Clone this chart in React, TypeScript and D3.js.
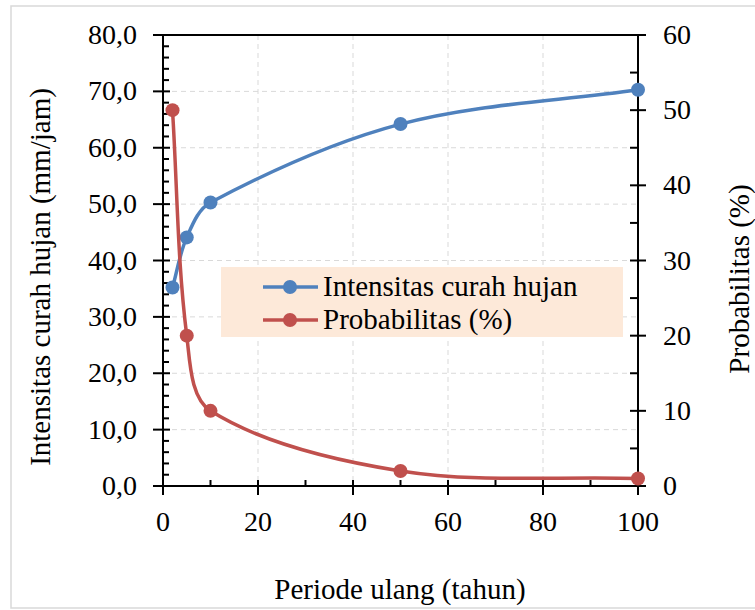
import React from "react";
import * as d3 from "d3";

const periods = [2, 5, 10, 50, 100];
const intensitas = [35.2, 44.1, 50.3, 64.2, 70.3];
const probabilitas = [50, 20, 10, 2, 1];
const seriesNames = ["Intensitas curah hujan", "Probabilitas (%)"];
const seriesColors = ["#4F81BD", "#C0504D"];
const xTicks = [0, 20, 40, 60, 80, 100];
const xMinorTicks = [10, 30, 50, 70, 90];
const yLeftTicks = [0, 10, 20, 30, 40, 50, 60, 70, 80];
const yRightTicks = [0, 10, 20, 30, 40, 50, 60];

const W = 755;
const H = 610;
const L = 163, R = 638, T = 35, B = 486;
const FONT = "'Liberation Serif', 'Times New Roman', serif";
const FS = 28;
const FS2 = 29;

// Excel-like smoothed line: Bezier segments whose control arms are scaled by segment lengths
function smoothPath(pts: [number, number][]): string {
  const p = d3.path();
  if (!pts.length) return "";
  p.moveTo(pts[0][0], pts[0][1]);
  const dist = (a: [number, number], b: [number, number]) => Math.hypot(b[0] - a[0], b[1] - a[1]);
  for (let i = 0; i < pts.length - 1; i++) {
    const p0 = pts[Math.max(0, i - 1)];
    const p1 = pts[i];
    const p2 = pts[i + 1];
    const p3 = pts[Math.min(pts.length - 1, i + 2)];
    const d01 = dist(p0, p1);
    const d12 = dist(p1, p2);
    const d23 = dist(p2, p3);
    const f1 = d01 + d12 > 0 ? d12 / (d01 + d12) / 3 : 0;
    const f2 = d12 + d23 > 0 ? d12 / (d12 + d23) / 3 : 0;
    const c1x = p1[0] + (p2[0] - p0[0]) * f1;
    const c1y = p1[1] + (p2[1] - p0[1]) * f1;
    const c2x = p2[0] - (p3[0] - p1[0]) * f2;
    const c2y = p2[1] - (p3[1] - p1[1]) * f2;
    p.bezierCurveTo(c1x, c1y, c2x, c2y, p2[0], p2[1]);
  }
  return p.toString();
}

export default function App() {
  const x = d3.scaleLinear().domain([0, 100]).range([L, R]);
  const yL = d3.scaleLinear().domain([0, 80]).range([B, T]);
  const yR = d3.scaleLinear().domain([0, 60]).range([B, T]);

  const ptsI = intensitas.map((v, i) => [x(periods[i]), yL(v)] as [number, number]);
  const ptsP = probabilitas.map((v, i) => [x(periods[i]), yR(v)] as [number, number]);

  const leftMinor = d3.range(0, 81, 2).filter((v) => v % 10 !== 0);
  const rightMinor = d3.range(5, 60, 10);

  const gridColor = "#D9D9D9";

  return (
    <svg
      width={W}
      height={H}
      style={{ position: "absolute", left: 0, top: 0, background: "#fff" }}
      fontFamily={FONT}
    >
      <rect x={11} y={6} width={W} height={602} fill="#fff" stroke="#D9D9D9" strokeWidth={1.5} />

      {/* grid */}
      {yLeftTicks.slice(1, -1).map((v) => (
        <line key={"gh" + v} x1={L} x2={R} y1={yL(v)} y2={yL(v)} stroke={gridColor} strokeWidth={1} strokeDasharray="5,4" />
      ))}
      {xTicks.slice(1, -1).map((v) => (
        <line key={"gv" + v} x1={x(v)} x2={x(v)} y1={T} y2={B} stroke={gridColor} strokeWidth={1} strokeDasharray="5,4" />
      ))}

      {/* top border */}
      <line x1={L - 10} x2={R} y1={T} y2={T} stroke="#000" strokeWidth={2} />

      {/* left axis */}
      <line x1={L} x2={L} y1={T} y2={B} stroke="#000" strokeWidth={2} />
      {yLeftTicks.map((v) => (
        <g key={"yl" + v}>
          <line x1={L - 10} x2={L + 7} y1={yL(v)} y2={yL(v)} stroke="#000" strokeWidth={2} />
          <text x={137} y={yL(v) + 9} textAnchor="end" fontSize={FS} fill="#000">
            {d3.format(".1f")(v).replace(".", ",")}
          </text>
        </g>
      ))}
      {leftMinor.map((v) => (
        <line key={"ylm" + v} x1={L} x2={L + 6} y1={yL(v)} y2={yL(v)} stroke="#000" strokeWidth={2} />
      ))}

      {/* right axis */}
      <line x1={R} x2={R} y1={T} y2={B} stroke="#000" strokeWidth={2} />
      {yRightTicks.map((v) => (
        <g key={"yr" + v}>
          <line x1={R - 8} x2={R + 8} y1={yR(v)} y2={yR(v)} stroke="#000" strokeWidth={2} />
          <text x={663} y={yR(v) + 9} textAnchor="start" fontSize={FS} fill="#000">
            {v}
          </text>
        </g>
      ))}
      {rightMinor.map((v) => (
        <line key={"yrm" + v} x1={R - 8} x2={R} y1={yR(v)} y2={yR(v)} stroke="#000" strokeWidth={2} />
      ))}

      {/* x axis */}
      <line x1={L} x2={R} y1={B} y2={B} stroke="#000" strokeWidth={2} />
      {xTicks.map((v) => (
        <g key={"x" + v}>
          <line x1={x(v)} x2={x(v)} y1={B - 6} y2={B + 9} stroke="#000" strokeWidth={2} />
          <text x={x(v)} y={531} textAnchor="middle" fontSize={FS} fill="#000">
            {v}
          </text>
        </g>
      ))}
      {xMinorTicks.map((v) => (
        <line key={"xm" + v} x1={x(v)} x2={x(v)} y1={B - 6} y2={B} stroke="#000" strokeWidth={2} />
      ))}

      {/* series */}
      <path d={smoothPath(ptsI)} fill="none" stroke={seriesColors[0]} strokeWidth={3.5} />
      {ptsI.map((pt, i) => (
        <circle key={"mi" + i} cx={pt[0]} cy={pt[1]} r={7} fill={seriesColors[0]} />
      ))}
      <path d={smoothPath(ptsP)} fill="none" stroke={seriesColors[1]} strokeWidth={3.5} />
      {ptsP.map((pt, i) => (
        <circle key={"mp" + i} cx={pt[0]} cy={pt[1]} r={7} fill={seriesColors[1]} />
      ))}

      {/* legend */}
      <rect x={221} y={267} width={402} height={70} fill="#FDE9D9" />
      {seriesNames.map((name, i) => {
        const cy = 287 + i * 33;
        return (
          <g key={"lg" + i}>
            <line x1={263} x2={318} y1={cy} y2={cy} stroke={seriesColors[i]} strokeWidth={3.5} />
            <circle cx={290} cy={cy} r={7} fill={seriesColors[i]} />
            <text x={323} y={cy + 9} fontSize={FS2} fill="#000">
              {name}
            </text>
          </g>
        );
      })}

      {/* axis titles */}
      <text x={400} y={599} textAnchor="middle" fontSize={FS2} fill="#000">
        Periode ulang (tahun)
      </text>
      <text transform={`translate(50, 277) rotate(-90)`} textAnchor="middle" fontSize={FS2} fill="#000">
        Intensitas curah hujan (mm/jam)
      </text>
      <text transform={`translate(749, 279) rotate(-90)`} textAnchor="middle" fontSize={FS2} fill="#000">
        Probabilitas (%)
      </text>
    </svg>
  );
}
